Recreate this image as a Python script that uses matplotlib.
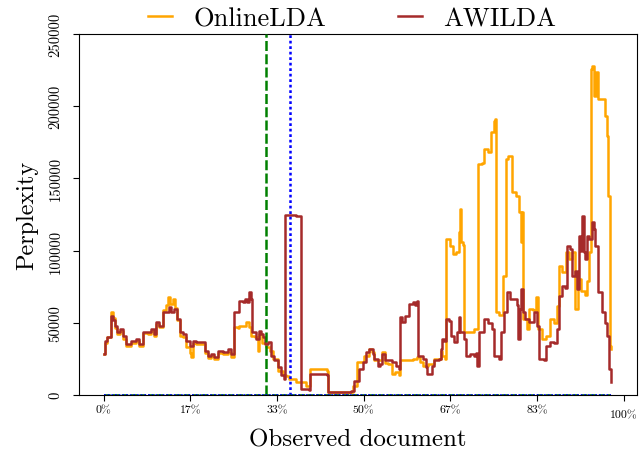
import matplotlib
matplotlib.use("Agg")
import matplotlib.pyplot as plt
from matplotlib.transforms import ScaledTranslation

plt.rcParams["font.family"] = ["cmr10", "DejaVu Serif"]
plt.rcParams["mathtext.fontset"] = "cm"
plt.rcParams["axes.formatter.use_mathtext"] = True

# AWILDA perplexity (x = % of observed documents)
aw_x = [0, 0.3, 0.7, 1.5, 1.8, 2.2, 2.6, 3.1, 3.7, 4.3, 5.3, 6.3, 6.7, 7.5, 8.5, 9.1,
        9.6, 10.1, 10.7, 11.4, 12.0, 12.5, 13.0, 13.6, 14.1, 14.6, 15.2, 15.9, 16.5,
        17.1, 17.8, 18.7, 19.4, 20.0, 20.6, 21.3, 21.9, 22.9, 23.9, 24.5, 25.0, 25.1,
        25.8, 26.1, 26.8, 27.1, 27.5, 27.9, 28.3, 28.6, 29.3, 29.9, 30.3, 30.6, 31.0,
        31.5, 32.2, 32.8, 33.5, 34.1, 34.7, 34.8, 35.5, 37.0, 37.9, 38.0, 39.5, 39.6,
        43.0, 43.1, 47.5, 48.2, 49.1, 49.8, 50.4, 51.0, 51.7, 52.0, 52.7, 53.2, 53.6,
        54.0, 54.6, 55.5, 56.2, 56.8, 56.9, 57.4, 58.0, 58.4, 58.7, 59.4, 59.9, 60.3,
        60.5, 61.3, 61.9, 62.2, 62.8, 63.2, 63.5, 64.5, 64.8, 65.1, 65.5, 65.9, 66.3,
        66.7, 67.4, 68.0, 68.4, 68.5, 69.2, 69.6, 70.5, 71.2, 71.6, 71.8, 72.2, 73.1,
        73.8, 74.7, 75.0, 76.0, 76.3, 77.0, 77.6, 78.2, 78.9, 79.4, 79.7, 80.0, 80.2,
        80.6, 81.1, 81.8, 82.7, 83.4, 83.7, 84.6, 85.0, 85.8, 86.5, 87.2, 87.5, 88.1,
        88.6, 89.1, 89.6, 90.1, 90.6, 91.0, 91.4, 91.7, 92.0, 92.3, 92.6, 92.9, 93.4,
        93.9, 94.2, 94.5, 95.0, 95.8, 96.4, 96.8, 97.1, 97.6]
aw_y = [28000, 37600, 40000, 54900, 52000, 48000, 43600, 45700, 41000, 35300, 37600,
        38800, 35300, 43600, 43600, 45700, 42200, 50500, 48000, 57500, 57500, 60900,
        57500, 59600, 52600, 43600, 42200, 37600, 34100, 37600, 36700, 36700, 30700,
        27200, 28500, 26300, 30700, 29600, 31900, 28400, 29000, 57300, 57300, 65300,
        64000, 66500, 64000, 71100, 66500, 43400, 38800, 44500, 42000, 39900, 35000,
        36500, 27200, 23800, 19400, 13400, 11100, 124800, 124800, 124000, 123000, 4200,
        3000, 14500, 13400, 1900, 2300, 9900, 18000, 22600, 29600, 31900, 28400, 24900,
        20300, 21500, 28400, 23800, 23800, 22600, 20300, 18000, 53800, 50300, 54900,
        54900, 63000, 64200, 62500, 65300, 27200, 24900, 19200, 14500, 14500, 20300,
        23800, 24900, 31900, 38800, 37500, 52600, 51500, 41000, 36500, 43400, 53800,
        43400, 38800, 27200, 28000, 27200, 29000, 20300, 43400, 52600, 50000, 45700,
        27200, 24900, 43400, 57300, 71100, 66500, 66500, 62000, 38800, 59600, 73400,
        57300, 52600, 50300, 57300, 48000, 24900, 23800, 34100, 36500, 36000, 45700,
        68800, 75700, 74000, 103400, 101000, 82600, 86000, 73400, 110300, 100000,
        124200, 98800, 94000, 110300, 108000, 119600, 115000, 103400, 71100, 57300,
        50000, 41000, 18000, 8800]

# OnlineLDA perplexity
ol_x = [0, 0.3, 0.7, 1.5, 1.8, 2.2, 2.6, 3.1, 3.7, 4.3, 5.3, 6.3, 6.7, 7.5, 8.5, 9.1,
        9.6, 10.1, 10.7, 11.4, 12.0, 12.3, 12.8, 13.4, 13.8, 14.1, 14.6, 15.2, 15.9,
        16.5, 16.8, 17.1, 17.8, 18.7, 19.4, 20.0, 20.6, 21.3, 21.9, 22.9, 23.9, 24.5,
        25.0, 25.1, 25.8, 26.1, 27.4, 27.9, 28.3, 29.0, 29.6, 29.9, 30.5, 31.2, 31.9,
        32.5, 33.5, 34.4, 35.0, 35.7, 37.0, 38.9, 39.6, 39.7, 43.0, 43.1, 47.5, 47.9,
        48.8, 50.1, 51.0, 51.5, 52.0, 52.7, 53.5, 54.0, 54.7, 55.5, 56.0, 56.8, 57.0,
        58.2, 59.4, 60.3, 60.8, 61.3, 62.4, 63.5, 64.5, 64.8, 65.1, 65.7, 65.9, 66.5,
        67.1, 67.8, 68.3, 68.5, 68.7, 69.0, 69.2, 70.3, 71.2, 71.8, 72.0, 72.8, 73.1,
        73.8, 74.4, 75.0, 75.2, 75.4, 76.0, 76.7, 77.3, 77.7, 78.5, 79.2, 79.8, 80.2,
        80.4, 80.7, 81.4, 81.8, 82.6, 83.1, 83.5, 84.3, 85.0, 85.9, 86.6, 87.2, 87.5,
        88.2, 88.9, 89.4, 90.1, 90.7, 91.2, 91.8, 92.5, 92.9, 93.3, 93.6, 93.9, 94.3,
        94.7, 95.0, 95.8, 96.4, 96.8, 97.0, 97.3, 97.6]
ol_y = [28000, 36000, 40000, 57500, 53000, 46000, 42000, 44000, 39000, 33500, 36000,
        37500, 34000, 42500, 42000, 44000, 40500, 49000, 47000, 58500, 62000, 67900,
        63000, 66500, 60000, 52000, 41000, 40000, 33000, 29000, 26300, 36000, 35500,
        35000, 29000, 25500, 27000, 24500, 29000, 28000, 30000, 26500, 27500, 46900,
        46500, 48000, 50300, 47000, 41000, 40000, 30700, 42200, 36000, 33000, 30700,
        24900, 16800, 13400, 13000, 11100, 8800, 6400, 6000, 18000, 16800, 1900, 2000,
        6400, 22600, 27200, 31900, 30000, 23800, 23800, 30000, 22000, 21500, 14500,
        16000, 13400, 23800, 23800, 24900, 26500, 23000, 20300, 21500, 24900, 24900,
        30700, 27000, 24900, 108000, 103400, 97600, 99000, 112700, 128800, 106000,
        104000, 43400, 43400, 45700, 45700, 160000, 161000, 170400, 168000, 181900,
        190000, 191100, 57300, 55000, 82600, 163400, 165700, 140300, 138000, 126500,
        105700, 126500, 52600, 45700, 59600, 58500, 67700, 45700, 38800, 41000, 52600,
        50000, 61800, 89500, 85000, 98800, 94000, 98800, 59600, 80000, 72000, 69000,
        79000, 98800, 225700, 228000, 207300, 223500, 205000, 205000, 193400, 179600,
        138000, 34100, 31900]

# drift markers (% of observed documents)
drift_green = 31.2
drift_blue = 35.8

xticks = [0, 100 / 6, 200 / 6, 50, 400 / 6, 500 / 6, 100]
xtick_labels = ["0%", "17%", "33%", "50%", "67%", "83%", "100%"]
yticks = [0, 50000, 100000, 150000, 200000, 250000]

fig = plt.figure(figsize=(6.4, 4.56), dpi=100)
ax = fig.add_axes([0.123, 0.132, 0.872, 0.791])

ax.plot(ol_x, ol_y, color="orange", lw=1.8, label="OnlineLDA", zorder=3,
        drawstyle="steps-post")
ax.plot(aw_x, aw_y, color="brown", lw=1.8, label="AWILDA", zorder=4,
        drawstyle="steps-post")

ax.axvline(drift_green, color="green", ls=(0, (4, 1.3)), lw=1.8, zorder=5)
ax.axvline(drift_blue, color="blue", ls=(0, (1.1, 1.1)), lw=1.8, zorder=5)
ax.hlines(0, 0, aw_x[-1], color="green", ls=(0, (4, 1.3)), lw=1.2, zorder=5)
ax.hlines(0, 0, aw_x[-1], color="blue", ls=(0, (1.1, 1.1)), lw=1.2, zorder=6)

ax.set_xlim(-4.8, 102.5)
ax.set_ylim(0, 250000)
ax.set_xticks(xticks)
ax.set_xticklabels(xtick_labels, fontsize=8.5)
ax.set_yticks(yticks)
ax.set_yticklabels([str(v) for v in yticks], fontsize=10.5, rotation=90, va="center")
ax.tick_params(axis="both", length=4.5)
ax.tick_params(axis="y", pad=7)
ax.tick_params(axis="x", pad=3)

# the last x tick label sits a little lower in the reference
lbl = ax.get_xticklabels()[-1]
lbl.set_transform(lbl.get_transform() + ScaledTranslation(0, -3.5 / 72, fig.dpi_scale_trans))

ax.set_xlabel("Observed document", fontsize=18, labelpad=6)
ax.set_ylabel("Perplexity", fontsize=17.5, labelpad=8)

ax.legend(loc="lower center", bbox_to_anchor=(0.49, 1.01), ncol=2, frameon=False,
          fontsize=19, handlelength=0.9, handletextpad=0.8, columnspacing=2.75,
          borderaxespad=0, borderpad=0)

fig.savefig("out.png", dpi=100)
